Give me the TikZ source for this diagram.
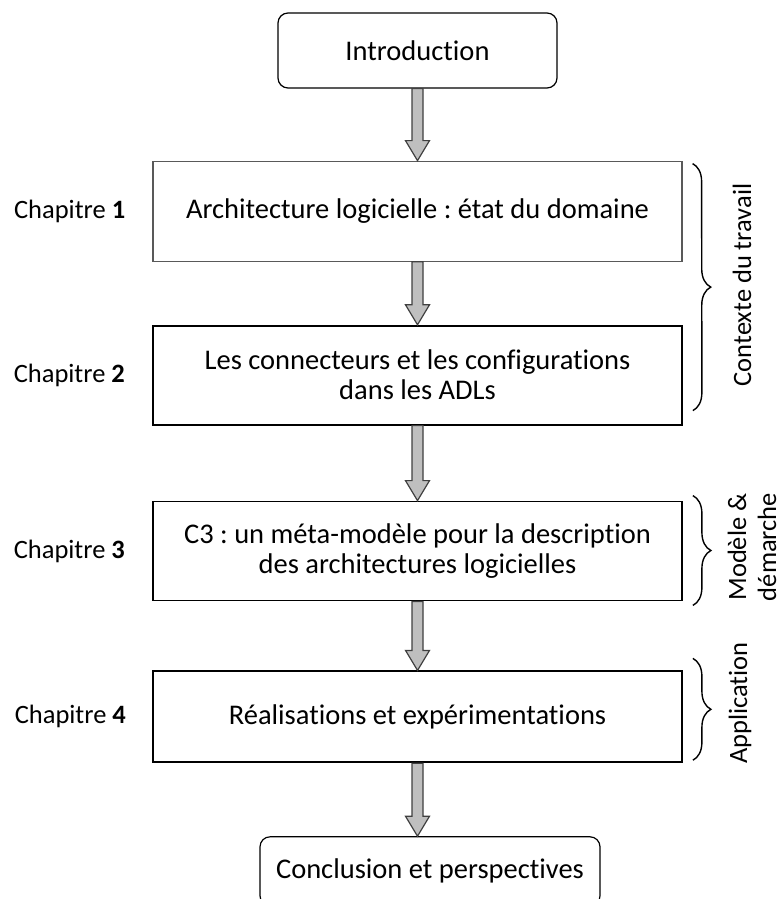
\documentclass[tikz,border=0pt]{standalone}
\usepackage{fontspec}
\setmainfont{Carlito}[Ligatures={NoCommon,NoContextual}]
\frenchspacing
\usetikzlibrary{positioning,calc,decorations.pathreplacing}

% grey block arrow from the bottom of one box to the top of the next
\newcommand{\flowarrow}[2]{%
  \draw[flow arrow] ($(#1.south)+(-5.5,0)$) -- ($(#1.south |- #2.north)+(-5.5,-20)$)
    -- ++(-6.5,0) -- (#1.south |- #2.north) -- ++(12,-20) -- ++(-6.5,0)
    -- ($(#1.south)+(5.5,0)$) -- cycle;}

\begin{document}
\begin{tikzpicture}[x=1pt,y=-1pt,
    every node/.style={font=\fontsize{26.5}{30}\selectfont},
    endbox/.style={draw,rounded corners=10pt,line width=1.2pt,minimum width=279pt,minimum height=75pt,font=\fontsize{28.5}{30}\selectfont},
    chapbox/.style={draw,line width=1.8pt,minimum width=529pt,minimum height=99pt,align=center,font=\fontsize{28.5}{30}\selectfont},
    chaplabel/.style={inner sep=0pt},
    flow arrow/.style={fill=black!25,draw=black!75,line width=1.2pt},
    brace line/.style={decorate,decoration={brace,amplitude=18pt},line width=1.4pt}]
                        \useasboundingbox (0,0) rectangle (782,899);

                        \node[endbox] (intro) at (417.5,50.5) {Introduction};
                        \node[chapbox,draw=black!65,line width=1.2pt,minimum height=100pt] (ch1) [below=72pt of intro] {Architecture logicielle : état du domaine};
                        \node[chapbox] (ch2) [below=63pt of ch1] {Les connecteurs et les configurations\\dans les ADLs};
                        \node[chapbox] (ch3) [below=75pt of ch2] {C3 : un méta-modèle pour la description\\des architectures logicielles};
                        \node[chapbox,minimum height=91pt] (ch4) [below=69pt of ch3] {Réalisations et expérimentations};
                        \node[endbox,minimum width=340pt,minimum height=69pt] (concl) [below=73pt of ch4,xshift=12.5pt] {Conclusion et perspectives};

                        \node[chaplabel] (lab1) [left=27pt of ch1] {Chapitre \textbf{1}};
                        \node[chaplabel] (lab2) [left=27pt of ch2] {Chapitre \textbf{2}};
                        \node[chaplabel] (lab3) [left=27pt of ch3] {Chapitre \textbf{3}};
                        \node[chaplabel] (lab4) [left=26pt of ch4] {Chapitre \textbf{4}};

                        \flowarrow{intro}{ch1}
                        \flowarrow{ch1}{ch2}
                        \flowarrow{ch2}{ch3}
                        \flowarrow{ch3}{ch4}
                        \flowarrow{ch4}{concl}

                        %\draw[brace line] (ch1.north east) -- (ch2.south east);
                        \draw[brace line] ($(ch1.north east)+(10,3)$) -- ($(ch2.south east)+(10,-15)$);
                        \draw[brace line] ($(ch3.north east)+(10,-5)$) -- ($(ch3.south east)+(10,4)$);
                        \draw[brace line] ($(ch4.north east)+(10,-12)$) -- ($(ch4.south east)+(10,-3)$);

                        \node[rotate=90] (ctx) at (742,285) {Contexte du travail};
                        \node[rotate=90,align=center] (mod) at (752,547) {Modèle \&\\démarche};
                        \node[rotate=90] (app) at (740,703) {Application};
\end{tikzpicture}
\end{document}
